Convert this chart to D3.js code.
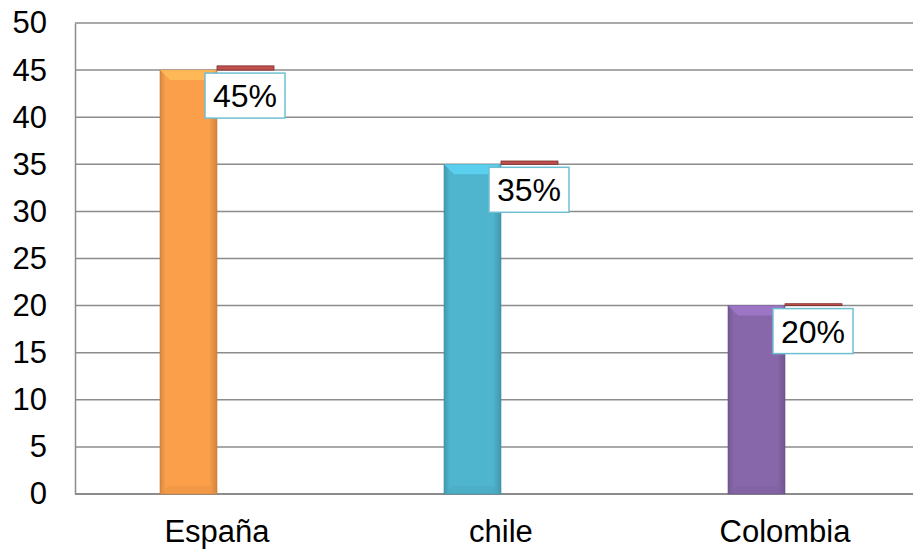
<!DOCTYPE html>
<html>
<head>
<meta charset="utf-8">
<script src="https://cdn.jsdelivr.net/npm/d3@7"></script>
<style>
  html, body { margin: 0; padding: 0; background: #fff; }
  svg { display: block; font-family: "Liberation Sans", Arial, sans-serif; }
</style>
</head>
<body>
<svg id="chart" width="913" height="551"></svg>
<script>
// Share by country (main series) and the same share as a fraction (thin series)
const countries = ["España", "chile", "Colombia"];
const values = [45, 35, 20];
const fractions = [0.45, 0.35, 0.20];
const valueLabels = ["45%", "35%", "20%"];
const barColors = ["#FB9F4B", "#4FB4CE", "#8767AA"];
const yTicks = [0, 5, 10, 15, 20, 25, 30, 35, 40, 45, 50];

const svg = d3.select("#chart");
const margin = { left: 75, top: 23, bottom: 57 };
const width = 913, height = 551;
const plotRight = 927;

const x = d3.scaleBand().domain(countries).range([margin.left, plotRight]).paddingInner(0.6).paddingOuter(0.3);
const barW = 57;
const y = d3.scaleLinear().domain([0, 50]).range([height - margin.bottom, margin.top]);

const defs = svg.append("defs");
function shade(c, k) { return d3.color(c).darker(k).formatHex(); }
function light(c, k) { return d3.color(c).brighter(k).formatHex(); }
barColors.forEach((c, i) => {
  const g = defs.append("linearGradient").attr("id", "g" + i).attr("x1", 0).attr("x2", 1).attr("y1", 0).attr("y2", 0);
  g.append("stop").attr("offset", "0").attr("stop-color", shade(c, 0.45));
  g.append("stop").attr("offset", "0.1").attr("stop-color", c);
  g.append("stop").attr("offset", "0.86").attr("stop-color", c);
  g.append("stop").attr("offset", "1").attr("stop-color", shade(c, 0.5));
});

// gridlines
svg.append("g").selectAll("line").data(yTicks.filter(d => d > 0)).join("line")
  .attr("x1", margin.left).attr("x2", width)
  .attr("y1", d => y(d)).attr("y2", d => y(d))
  .attr("stroke", "#8c8c8c").attr("stroke-width", 1.5);

// y axis
const yAxis = svg.append("g").attr("transform", `translate(${margin.left},0)`)
  .call(d3.axisLeft(y).tickValues(yTicks).tickSize(0).tickPadding(28));
yAxis.select(".domain").attr("stroke", "#8c8c8c").attr("stroke-width", 1.5);
yAxis.selectAll("text").attr("font-size", 31).attr("fill", "#000")
  .attr("font-family", "'Liberation Sans', Arial, sans-serif");

// x baseline
svg.append("line").attr("x1", margin.left).attr("x2", width)
  .attr("y1", y(0)).attr("y2", y(0)).attr("stroke", "#8c8c8c").attr("stroke-width", 2);

// x category labels
svg.append("g").selectAll("text").data(countries).join("text")
  .attr("x", d => x(d) + x.bandwidth() / 2)
  .attr("y", y(0) + 48)
  .attr("text-anchor", "middle").attr("font-size", 31).attr("fill", "#000")
  .text(d => d);

const cx = d => x(d) + x.bandwidth() / 2;

// main bars
const bars = svg.append("g").selectAll("g").data(countries).join("g");
bars.append("rect")
  .attr("x", d => cx(d) - barW).attr("width", barW)
  .attr("y", (d, i) => y(values[i])).attr("height", (d, i) => y(0) - y(values[i]))
  .attr("fill", (d, i) => `url(#g${i})`)
  .attr("stroke", (d, i) => shade(barColors[i], 0.7)).attr("stroke-width", 0.6);
// top bevel
bars.append("path")
  .attr("d", (d, i) => {
    const x0 = cx(d) - barW, x1 = cx(d), t = y(values[i]), b = 10;
    return `M${x0},${t}L${x1},${t}L${x1 - b},${t + b}L${x0 + b},${t + b}Z`;
  })
  .attr("fill", (d, i) => light(barColors[i], 0.5)).attr("opacity", 0.8);
// bottom bevel
bars.append("path")
  .attr("d", (d, i) => {
    const x0 = cx(d) - barW, x1 = cx(d), bt = y(0), b = 8;
    return `M${x0},${bt}L${x1},${bt}L${x1 - b},${bt - b}L${x0 + b},${bt - b}Z`;
  })
  .attr("fill", (d, i) => shade(barColors[i], 0.2)).attr("opacity", 0.5);

// thin fraction series, stacked above the value level
svg.append("g").selectAll("rect").data(countries).join("rect")
  .attr("x", d => cx(d)).attr("width", barW)
  .attr("y", (d, i) => y(values[i] + fractions[i]))
  .attr("height", (d, i) => y(values[i]) - y(values[i] + fractions[i]))
  .attr("fill", "#C0504D").attr("stroke", "#7a2e2c").attr("stroke-width", 0.8);

// value labels
const lbl = svg.append("g").selectAll("g").data(countries).join("g")
  .attr("transform", (d, i) => `translate(${cx(d) - 12},${y(values[i]) + 3})`);
lbl.append("rect").attr("width", 80).attr("height", 45)
  .attr("fill", "#fff").attr("stroke", "#6fbfd3").attr("stroke-width", 1.5);
lbl.append("text").attr("x", 40).attr("y", 34).attr("text-anchor", "middle")
  .attr("font-size", 32).attr("fill", "#000")
  .text((d, i) => valueLabels[i]);
</script>
</body>
</html>
